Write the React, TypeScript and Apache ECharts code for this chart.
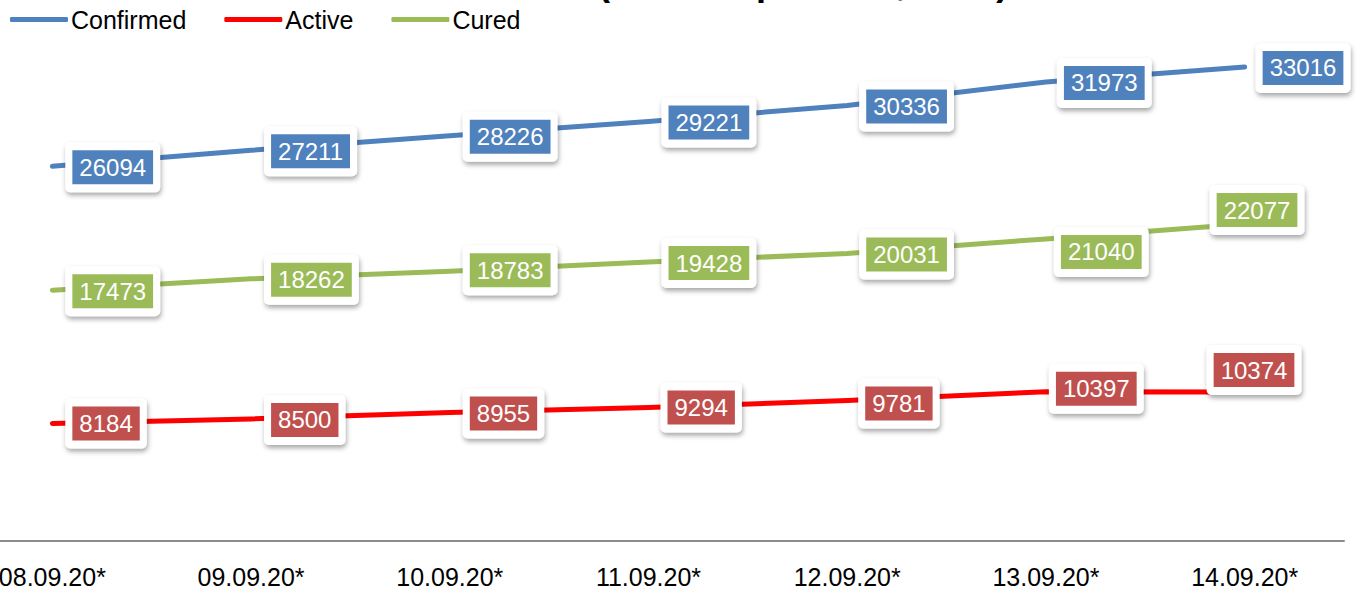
import React, { useEffect, useRef } from "react";
import * as echarts from "echarts";

const titleText = "State Trend (08-14 September, 2020)";
const categories = ["08.09.20*", "09.09.20*", "10.09.20*", "11.09.20*", "12.09.20*", "13.09.20*", "14.09.20*"];
const confirmed = [26094, 27211, 28226, 29221, 30336, 31973, 33016];
const active = [8184, 8500, 8955, 9294, 9781, 10397, 10374];
const cured = [17473, 18262, 18783, 19428, 20031, 21040, 22077];

// label offsets (left edge of label box from point, vertical centre from point)
const confirmedOffsets = [[13, 1], [13, 1], [13, 1], [13, 1], [12, 1], [11, 1], [11, 1]];
const activeOffsets = [[13, 0], [13, 1], [13, 1], [12, 0], [11, 3], [3, -3], [-38, -22]];
const curedOffsets = [[13, 1], [13, 1], [13, -1], [13, 1], [12, 1], [8, 13], [-35, -14]];

const FONT = "'Liberation Sans', Arial, sans-serif";

function makeSeries(name: string, values: number[], offsets: number[][], lineColor: string, boxColor: string) {
  return {
    name,
    type: "line",
    symbol: "circle",
    symbolSize: 1,
    itemStyle: { color: lineColor },
    lineStyle: { color: lineColor, width: 5, cap: "round", join: "round" },
    emphasis: { disabled: true },
    z: 2,
    label: {
      show: true,
      position: "inside",
      align: "left",
      verticalAlign: "middle",
      formatter: (p: any) => "{v|" + p.value + "}",
      backgroundColor: "#ffffff",
      padding: [8, 7, 8, 7],
      borderRadius: 5,
      shadowColor: "rgba(0,0,0,0.35)",
      shadowBlur: 5,
      shadowOffsetX: 1,
      shadowOffsetY: 3,
      rich: {
        v: {
          backgroundColor: boxColor,
          color: "#ffffff",
          fontFamily: FONT,
          fontSize: 24,
          lineHeight: 34,
          height: 34,
          padding: [0, 7, 0, 7],
        },
      },
    },
    data: values.map((v, i) => ({ value: v, label: { offset: offsets[i] } })),
  };
}

export default function App() {
  const ref = useRef<HTMLDivElement>(null);
  useEffect(() => {
    document.body.style.margin = "0";
    if (!ref.current) return;
    const chart = echarts.init(ref.current, null, { renderer: "svg" });
    chart.setOption({
      animation: false,
      backgroundColor: "#ffffff",
      tooltip: { show: false },
      graphic: [
        {
          type: "text",
          x: 700,
          y: -18,
          style: {
            text: titleText,
            textAlign: "center",
            textVerticalAlign: "middle",
            font: "bold 36px 'Liberation Sans', Arial, sans-serif",
            fill: "#000000",
          },
        },
      ],
      legend: {
        left: 5,
        top: 2,
        icon: "roundRect",
        itemWidth: 58,
        itemHeight: 5,
        itemGap: 38,
        textStyle: { fontFamily: FONT, fontSize: 25, color: "#000000", padding: [0, 0, 0, -2] },
        data: ["Confirmed", "Active", "Cured"],
      },
      grid: { left: -47, right: 12, top: 38.5, bottom: 48, containLabel: false, outerBoundsMode: "none" },
      xAxis: {
        type: "category",
        data: categories,
        boundaryGap: true,
        axisLine: { show: true, lineStyle: { color: "#8c8c8c", width: 2 } },
        axisTick: { show: false },
        axisLabel: { color: "#000000", fontFamily: FONT, fontSize: 25, margin: 23, interval: 0 },
        splitLine: { show: false },
      },
      yAxis: {
        type: "value",
        min: 0,
        max: 35000,
        show: false,
        splitLine: { show: false },
      },
      series: [
        makeSeries("Confirmed", confirmed, confirmedOffsets, "#4F81BD", "#4F81BD"),
        makeSeries("Active", active, activeOffsets, "#FF0000", "#C0504D"),
        makeSeries("Cured", cured, curedOffsets, "#9BBB59", "#9BBB59"),
      ],
    });
    return () => chart.dispose();
  }, []);
  return <div ref={ref} style={{ width: 1356, height: 589, background: "#fff" }} />;
}
